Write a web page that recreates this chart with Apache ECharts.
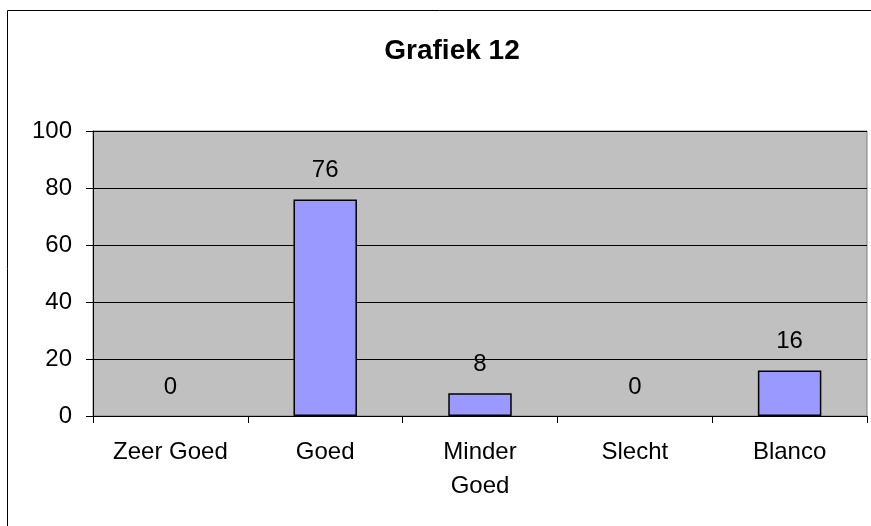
<!DOCTYPE html>
<html>
<head>
<meta charset="utf-8">
<script src="https://cdn.jsdelivr.net/npm/echarts@6/dist/echarts.min.js"></script>
<style>
  html, body { margin: 0; padding: 0; background: #fff; }
  #chart { width: 871px; height: 526px; }
</style>
</head>
<body>
<div id="chart"></div>
<script>
const categories = ['Zeer Goed', 'Goed', 'Minder Goed', 'Slecht', 'Blanco']
const values = [0, 76, 8, 0, 16]
const yTicks = [0, 20, 40, 60, 80, 100]

const chart = echarts.init(document.getElementById('chart'))
const font = 'Liberation Sans, Arial, sans-serif'

// zero bars have no visible outline in the original
const barData = values.map((v) => ({
  value: v,
  itemStyle: v === 0 ? { borderWidth: 0, color: 'transparent' } : undefined
}))

chart.setOption({
  animation: false,
  title: {
    text: 'Grafiek 12',
    left: 447,
    top: 32,
    textAlign: 'center',
    textStyle: { fontFamily: font, fontSize: 28, fontWeight: 'bold', color: '#000' }
  },
  graphic: [
    {
      // chart frame, right and bottom edges fall outside the picture
      type: 'rect',
      shape: { x: 7.5, y: 10.5, width: 880, height: 530 },
      style: { fill: 'none', stroke: '#000', lineWidth: 1 },
      z: -1
    }
  ],
  grid: {
    left: 93,
    right: 4,
    top: 131,
    bottom: 110,
    show: true,
    backgroundColor: '#c0c0c0',
    borderColor: '#808080',
    borderWidth: 1
  },
  xAxis: {
    type: 'category',
    data: categories,
    axisLine: { lineStyle: { color: '#000', width: 1 } },
    axisTick: { show: true, length: 7, lineStyle: { color: '#000' } },
    axisLabel: {
      margin: 19,
      fontFamily: font,
      fontSize: 24,
      color: '#000',
      lineHeight: 34,
      interval: 0,
      formatter: (v) => (v === 'Minder Goed' ? 'Minder\nGoed' : v)
    }
  },
  yAxis: {
    type: 'value',
    min: yTicks[0],
    max: yTicks[yTicks.length - 1],
    interval: 20,
    axisLine: { show: true, lineStyle: { color: '#000', width: 1 } },
    axisTick: { show: true, length: 7, lineStyle: { color: '#000' } },
    axisLabel: { margin: 21, fontFamily: font, fontSize: 24, color: '#000' },
    splitLine: { show: true, lineStyle: { color: '#000', width: 1 } }
  },
  series: [
    {
      type: 'bar',
      data: barData,
      barWidth: '41%',
      itemStyle: { color: '#9999ff', borderColor: '#000', borderWidth: 1.5 },
      label: {
        show: true,
        position: 'top',
        distance: 17,
        fontFamily: font,
        fontSize: 24,
        color: '#000'
      }
    }
  ]
})
</script>
</body>
</html>
